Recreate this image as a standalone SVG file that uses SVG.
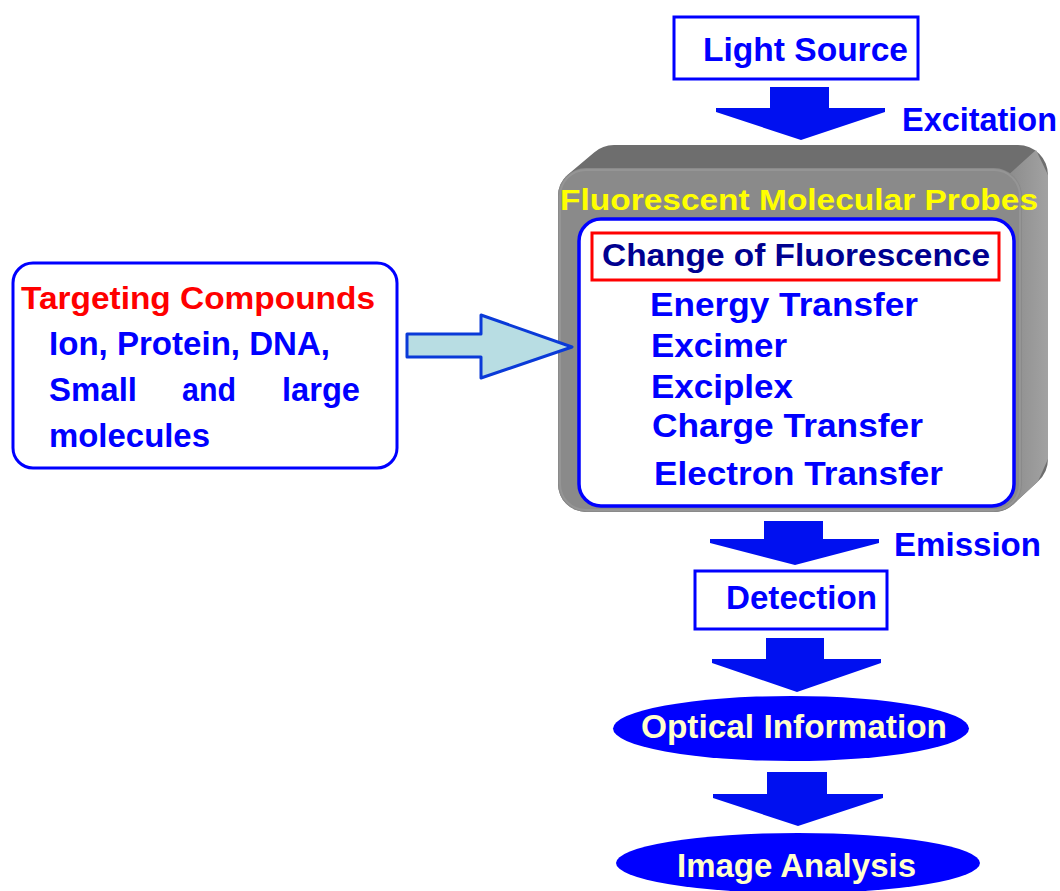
<svg xmlns="http://www.w3.org/2000/svg" width="1060" height="891" viewBox="0 0 1060 891">
  <defs>
    <linearGradient id="sideGrad" x1="0" y1="0" x2="1" y2="0">
      <stop offset="0" stop-color="#8a8a8a"/>
      <stop offset="1" stop-color="#a2a2a2"/>
    </linearGradient>
    <style>
      text { font-family: "Liberation Sans", Arial, sans-serif; font-weight: bold; }
      .blue { fill: #0000ff; font-size: 33px; }
      .navy { fill: #000090; font-size: 31px; }
      .red { fill: #ff0000; font-size: 31px; }
      .yellow { fill: #ffff00; font-size: 30px; }
      .cream { fill: #ffffcc; font-size: 33px; }
      .box { fill: #ffffff; stroke: #0000ff; stroke-width: 3; }
      .flow { fill: #0010f0; }
      .oval { fill: #0000ff; }
    </style>
  </defs>
  <rect width="1060" height="891" fill="#ffffff"/>

  <g id="light-source">
    <rect class="box" x="674" y="17" width="244" height="62"/>
    <text class="blue" x="703" y="61" textLength="205" lengthAdjust="spacingAndGlyphs">Light Source</text>
  </g>

  <g id="probes">
    <path d="M 558 196 A 28 28 0 0 1 567.4 175 L 594.1 152.5 A 30 30 0 0 1 614 145 L 1018 145 A 30 30 0 0 1 1048 175 L 1048 459 A 30 30 0 0 1 1037.9 481.5 L 1012.6 505 A 28 28 0 0 1 994 512 L 586 512 A 28 28 0 0 1 558 484 Z" fill="#6e6e6e"/>
    <path d="M 1005 178 L 1036 150 L 1048 175 L 1048 459 L 1037.9 481.5 L 1012.6 505 L 1005 505 Z" fill="url(#sideGrad)"/>
    <rect x="558" y="168" width="464" height="344" rx="28" fill="#8a8a8a"/>
    <rect x="560" y="170" width="460" height="340" rx="26" fill="none" stroke="#959595" stroke-width="2"/>
    <text class="yellow" x="560" y="210" textLength="478" lengthAdjust="spacingAndGlyphs">Fluorescent Molecular Probes</text>
    <rect x="579" y="219" width="435" height="287" rx="22" fill="#ffffff" stroke="#0000ff" stroke-width="3.5"/>
    <rect x="592" y="233" width="407" height="47" fill="#ffffff" stroke="#ff0000" stroke-width="3"/>
    <text class="navy" x="602" y="266" textLength="388" lengthAdjust="spacingAndGlyphs">Change of Fluorescence</text>
    <text class="blue" x="650" y="316" textLength="268" lengthAdjust="spacingAndGlyphs">Energy Transfer</text>
    <text class="blue" x="651" y="357" textLength="136" lengthAdjust="spacingAndGlyphs">Excimer</text>
    <text class="blue" x="651" y="398" textLength="142" lengthAdjust="spacingAndGlyphs">Exciplex</text>
    <text class="blue" x="652" y="437" textLength="271" lengthAdjust="spacingAndGlyphs">Charge Transfer</text>
    <text class="blue" x="654" y="485" textLength="289" lengthAdjust="spacingAndGlyphs">Electron Transfer</text>
  </g>

  <g id="targeting">
    <rect x="13" y="263" width="384" height="205" rx="20" fill="#ffffff" stroke="#0000ff" stroke-width="3"/>
    <text class="red" x="21" y="309" textLength="354" lengthAdjust="spacingAndGlyphs">Targeting Compounds</text>
    <text class="blue" x="49" y="355" textLength="281" lengthAdjust="spacingAndGlyphs">Ion, Protein, DNA,</text>
    <text class="blue" y="401"><tspan x="49" textLength="88" lengthAdjust="spacingAndGlyphs">Small</tspan> <tspan x="182" textLength="54" lengthAdjust="spacingAndGlyphs">and</tspan> <tspan x="282" textLength="78" lengthAdjust="spacingAndGlyphs">large</tspan></text>
    <text class="blue" x="49" y="447" textLength="161" lengthAdjust="spacingAndGlyphs">molecules</text>
  </g>

  <g id="detection">
    <rect class="box" x="695" y="571" width="192" height="58"/>
    <text class="blue" x="726" y="609" textLength="151" lengthAdjust="spacingAndGlyphs">Detection</text>
  </g>

  <g id="optical-information">
    <ellipse class="oval" cx="791" cy="728.5" rx="178" ry="32.5"/>
    <text class="cream" x="641" y="738" textLength="306" lengthAdjust="spacingAndGlyphs">Optical Information</text>
  </g>

  <g id="image-analysis">
    <ellipse class="oval" cx="798" cy="863" rx="182" ry="30"/>
    <text class="cream" x="677" y="877" textLength="239" lengthAdjust="spacingAndGlyphs">Image Analysis</text>
  </g>

  <g id="connectors">
    <polygon class="flow" points="770,87 829,87 829,108 885,108 885,112 801,140 716,112 716,108 770,108"/>
    <text class="blue" x="902" y="131" textLength="155" lengthAdjust="spacingAndGlyphs">Excitation</text>
    <polygon points="407,334 481,334 481,315 572,347 481,378 481,357 407,357" fill="#b8dde3" stroke="#0a3ad8" stroke-width="3" stroke-linejoin="round"/>
    <polygon class="flow" points="764,521 823,521 823,539 879,539 879,543 795,565 710,543 710,539 764,539"/>
    <text class="blue" x="894" y="556" textLength="147" lengthAdjust="spacingAndGlyphs">Emission</text>
    <polygon class="flow" points="766,638 824,638 824,659 881,659 881,663 797,692 712,663 712,659 766,659"/>
    <polygon class="flow" points="767,772 827,772 827,794 883,794 883,798 798,826 713,798 713,794 767,794"/>
  </g>
</svg>
